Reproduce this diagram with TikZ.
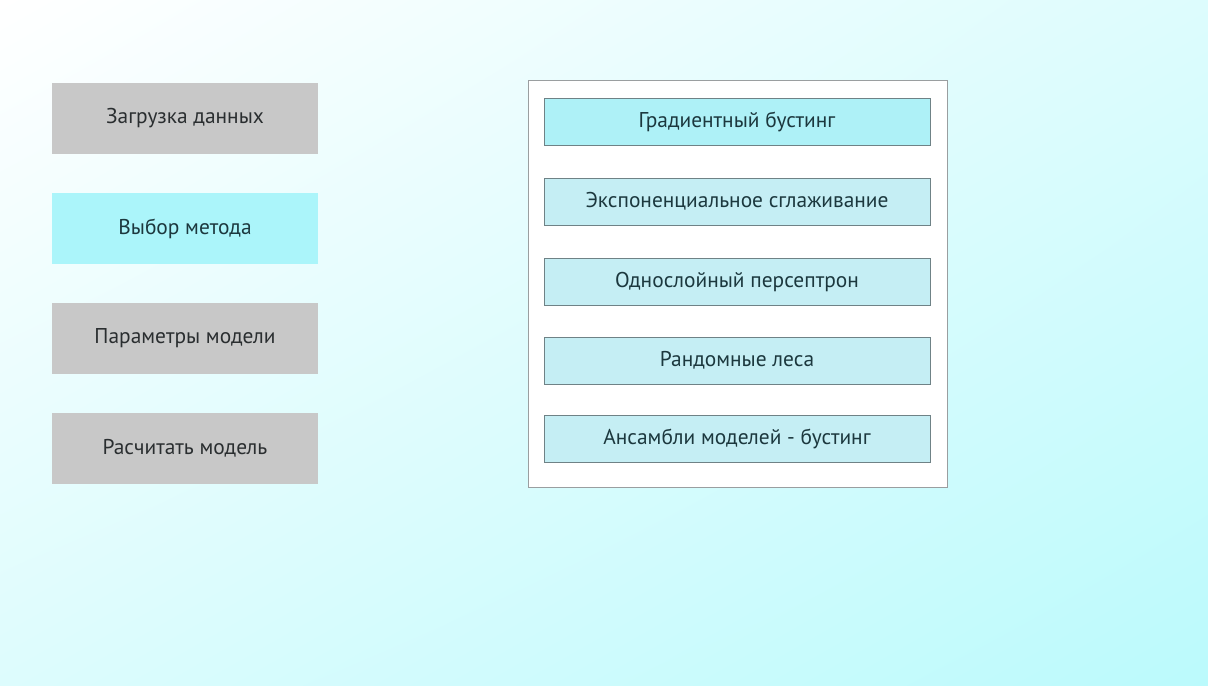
\documentclass[tikz,border=0pt]{standalone}
\usepackage{fontspec}
\setmainfont{PT Sans}
\usetikzlibrary{positioning,shadings}
\definecolor{TextGrey}{HTML}{2A2E30}
\definecolor{TextTeal}{HTML}{1C383E}
\definecolor{ButtonGrey}{HTML}{C8C8C8}
\definecolor{ButtonCyan}{HTML}{ABF5FA}
\definecolor{MethodCyan}{HTML}{AEF1F7}
\definecolor{MethodLight}{HTML}{C5EEF4}
\definecolor{BoxEdge}{HTML}{6F8286}
\definecolor{PanelEdge}{HTML}{9A9EA0}
\definecolor{BgCyan}{HTML}{BBFAFC}
\definecolor{BgMid}{HTML}{DDFCFD}

\begin{document}
\begin{tikzpicture}[x=0.5pt,y=-0.5pt,
    menubtn/.style={fill=ButtonGrey, text=TextGrey, minimum width=133pt, minimum height=35.5pt,
      inner sep=0pt, font=\fontsize{10.7}{12}\selectfont},
    menuact/.style={menubtn, fill=ButtonCyan, text=TextTeal},
    method/.style={draw=BoxEdge, line width=0.5pt, fill=MethodLight, text=TextTeal,
      minimum width=193pt, minimum height=23.5pt, inner sep=0pt, font=\fontsize{10.7}{12}\selectfont},
    panel/.style={draw=PanelEdge, line width=0.5pt, fill=white, minimum width=209.5pt,
      minimum height=203.5pt, inner sep=0pt}]
  % background
  \shade[upper left=white, upper right=BgMid, lower left=BgMid, lower right=BgCyan]
    (0,0) rectangle (1208,685);
  \useasboundingbox (0,0) rectangle (1208,685);

  % left menu
  \node[menubtn] (load)   at (185,118.5) {Загрузка данных};
  \node[menuact] (choose) at (185,228.5) {Выбор метода};
  \node[menubtn] (params) at (185,338.5) {Параметры модели};
  \node[menubtn] (calc)   at (185,448.5) {Расчитать модель};

  % methods panel
  \node[panel] (list) at (737.5,283.5) {};
  \node[method, fill=MethodCyan] (m1) at (737,121.5) {Градиентный бустинг};
  \node[method] (m2) at (737,201.5) {Экспоненциальное сглаживание};
  \node[method] (m3) at (737,282)   {Однослойный персептрон};
  \node[method] (m4) at (737,360.5) {Рандомные леса};
  \node[method] (m5) at (737,438.5) {Ансамбли моделей - бустинг};
\end{tikzpicture}
\end{document}
